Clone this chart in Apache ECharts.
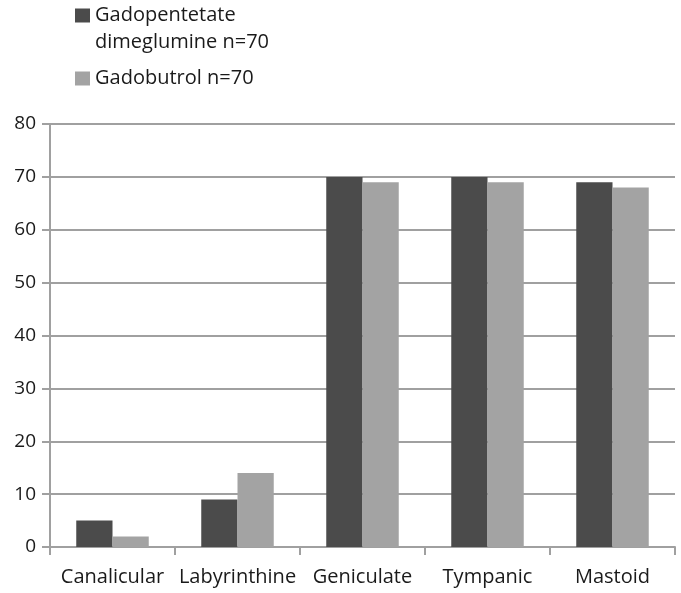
<!DOCTYPE html>
<html>
<head>
<meta charset="utf-8">
<script src="https://cdn.jsdelivr.net/npm/echarts@6/dist/echarts.min.js"></script>
<style>
html, body { margin: 0; padding: 0; background: #fff; }
#chart { width: 681px; height: 593px; }
</style>
</head>
<body>
<div id="chart"></div>
<script>
var categories = ["Canalicular", "Labyrinthine", "Geniculate", "Tympanic", "Mastoid"];
var gadopentetate = [5, 9, 70, 70, 69];
var gadobutrol = [2, 14, 69, 69, 68];
var seriesNames = ["Gadopentetate\ndimeglumine n=70", "Gadobutrol n=70"];
var yTicks = { min: 0, max: 80, step: 10 };

var fontName = "Open Sans";
var lineColor = "#a0a0a0";
var textColor = "#1a1a1a";

var chart = echarts.init(document.getElementById('chart'));
var option = {
	backgroundColor: '#fff',
	animation: false,
	legend: {
		orient: 'vertical',
		left: 70,
		top: -30,
		itemWidth: 15,
		itemHeight: 14,
		itemGap: 9,
		icon: 'rect',
		// blank first line so the icon sits beside the first text line
		formatter: function (name) {
			return name.indexOf('\n') >= 0 ? ' \n' + name : name;
		},
		textStyle: {
			fontFamily: fontName,
			fontSize: 20,
			color: textColor,
			lineHeight: 27
		},
		data: seriesNames
	},
	grid: {
		left: 50,
		right: 6,
		top: 124,
		bottom: 46,
		outerBoundsMode: 'none'
	},
	xAxis: {
		type: 'category',
		data: categories,
		axisLine: { lineStyle: { color: lineColor, width: 2 } },
		axisTick: { show: true, length: 8, lineStyle: { color: lineColor, width: 2 } },
		axisLabel: { interval: 0, fontFamily: fontName, fontSize: 20, color: textColor, margin: 20 }
	},
	yAxis: {
		type: 'value',
		min: yTicks.min,
		max: yTicks.max,
		interval: yTicks.step,
		axisLine: { show: true, lineStyle: { color: lineColor, width: 2 } },
		axisTick: { show: true, length: 8, lineStyle: { color: lineColor, width: 2 } },
		splitLine: { lineStyle: { color: lineColor, width: 2 } },
		axisLabel: { fontFamily: fontName, fontSize: 19, color: textColor, margin: 14 }
	},
	series: [{
		name: seriesNames[0],
		type: 'bar',
		data: gadopentetate,
		barGap: '0%',
		barCategoryGap: '42%',
		itemStyle: { color: '#4b4b4b' }
	}, {
		name: seriesNames[1],
		type: 'bar',
		data: gadobutrol,
		itemStyle: { color: '#a3a3a3' }
	}]
};
chart.setOption(option);
</script>
</body>
</html>
